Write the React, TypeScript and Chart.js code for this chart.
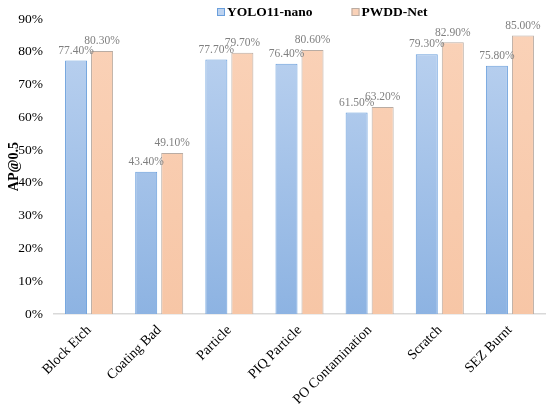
import { useEffect, useRef } from "react"
import { Chart, registerables } from "chart.js"

Chart.register(...registerables)

const categories = ["Block Etch", "Coating Bad", "Particle", "PIQ Particle", "PO Contamination", "Scratch", "SEZ Burnt"]
const seriesNames = ["YOLO11-nano", "PWDD-Net"]
const yoloValues = [77.4, 43.4, 77.7, 76.4, 61.5, 79.3, 75.8]
const pwddValues = [80.3, 49.1, 79.7, 80.6, 63.2, 82.9, 85.0]
const yMax = 90
const yStep = 10

const serif = '"Liberation Serif", "Times New Roman", serif'

const blueTop = "#bdd3f0"
const blueBottom = "#8db3e2"
const blueBorder = "#6a9fdc"
const orangeTop = "#fad2b8"
const orangeBottom = "#f7c6a6"
const orangeBorder = "#b9aca3"

function makeFill(top: string, bottom: string) {
  return (ctx: any) => {
    const area = ctx.chart.chartArea
    if (!area) return bottom
    const g = ctx.chart.ctx.createLinearGradient(0, area.top, 0, area.bottom)
    g.addColorStop(0, top)
    g.addColorStop(1, bottom)
    return g
  }
}

// value labels above each bar
const valueLabels = {
  id: "valueLabels",
  afterDatasetsDraw(chart: any) {
    const ctx = chart.ctx
    ctx.save()
    ctx.font = `11.5px ${serif}`
    ctx.fillStyle = "#7f7f7f"
    ctx.textAlign = "center"
    ctx.textBaseline = "bottom"
    chart.data.datasets.forEach((ds: any, i: number) => {
      const meta = chart.getDatasetMeta(i)
      meta.data.forEach((el: any, j: number) => {
        ctx.fillText(`${ds.data[j].toFixed(2)}%`, el.x, el.y - 4)
      })
    })
    ctx.restore()
  },
}

// legend drawn inside the plot, like the original
const innerLegend = {
  id: "innerLegend",
  afterDraw(chart: any) {
    const ctx = chart.ctx
    const area = chart.chartArea
    const boxes = [
      [blueTop, blueBorder],
      [orangeTop, orangeBorder],
    ]
    ctx.save()
    ctx.font = `bold 13.5px ${serif}`
    ctx.textBaseline = "middle"
    ctx.textAlign = "left"
    let x = area.left + 163
    const y = 12
    seriesNames.forEach((name, i) => {
      ctx.fillStyle = boxes[i][0]
      ctx.fillRect(x, y - 4, 8, 8)
      ctx.strokeStyle = boxes[i][1]
      ctx.lineWidth = 1
      ctx.strokeRect(x + 0.5, y - 3.5, 7, 7)
      ctx.fillStyle = "#000"
      ctx.fillText(name, x + 10, y + 1)
      x += 10 + ctx.measureText(name).width + 39
    })
    ctx.restore()
  },
}

export default function App() {
  const chartRef = useRef<HTMLCanvasElement>(null)
  const chartInstance = useRef<Chart | null>(null)

  useEffect(() => {
    if (!chartRef.current) return
    if (chartInstance.current) chartInstance.current.destroy()

    chartInstance.current = new Chart(chartRef.current, {
      type: "bar",
      data: {
        labels: categories,
        datasets: [
          {
            label: seriesNames[0],
            data: yoloValues,
            backgroundColor: makeFill(blueTop, blueBottom),
            borderColor: blueBorder,
            borderWidth: 1,
          },
          {
            label: seriesNames[1],
            data: pwddValues,
            backgroundColor: makeFill(orangeTop, orangeBottom),
            borderColor: orangeBorder,
            borderWidth: 1,
          },
        ],
      },
      options: {
        animation: false,
        responsive: true,
        maintainAspectRatio: false,
        categoryPercentage: 0.742,
        barPercentage: 0.846,
        layout: { padding: { top: 9, right: 5, left: 0, bottom: 0 } },
        plugins: {
          legend: { display: false },
          tooltip: { enabled: false },
        },
        scales: {
          x: {
            grid: { display: false, drawTicks: false },
            border: { display: true, color: "#d9d9d9", width: 1.5 },
            ticks: {
              color: "#000",
              font: { family: serif, size: 14 },
              minRotation: 45,
              maxRotation: 45,
              padding: 8,
            },
            afterFit: (scale: any) => {
              scale.height = 90
            },
          },
          y: {
            min: 0,
            max: yMax,
            grid: { display: false, drawTicks: false },
            border: { display: false },
            ticks: {
              stepSize: yStep,
              color: "#000",
              font: { family: serif, size: 13.5 },
              padding: 11,
              callback: (v: any) => `${v}%`,
            },
            title: {
              display: true,
              text: "AP@0.5",
              color: "#000",
              font: { family: serif, size: 14, weight: "bold" },
              padding: { top: 6, bottom: 0 },
            },
            afterFit: (scale: any) => {
              scale.width = 54
            },
          },
        },
      },
      plugins: [valueLabels, innerLegend],
    })

    return () => {
      if (chartInstance.current) {
        chartInstance.current.destroy()
        chartInstance.current = null
      }
    }
  }, [])

  return (
    <div style={{ position: "fixed", left: 0, top: 0, width: 550, height: 404, background: "#fff" }}>
      <canvas ref={chartRef} />
    </div>
  )
}
